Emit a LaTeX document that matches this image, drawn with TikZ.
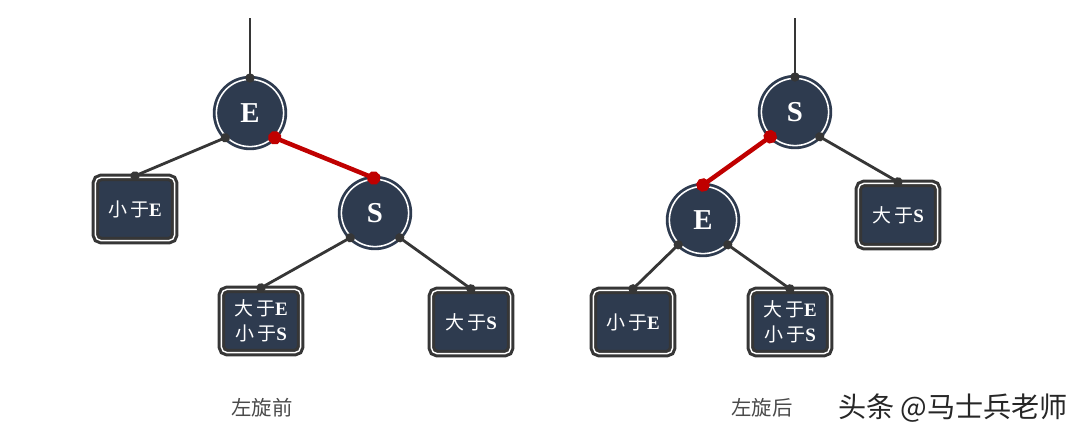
\documentclass[tikz,border=0pt]{standalone}
\usepackage{fontspec}
\setmainfont{Liberation Serif}
\newfontfamily\cjk{Noto Sans CJK SC}
\usetikzlibrary{arrows.meta}
\definecolor{treenavy}{HTML}{2E3B4F}
\definecolor{treeedge}{HTML}{363636}
\definecolor{rotred}{HTML}{C00000}
\definecolor{captiongray}{HTML}{4A4A4A}
\tikzset{
  keynode/.style={
    circle,
    fill=treenavy,
    draw=treenavy,
    double=white,
    double distance=1.1pt,
    line width=2pt,
    minimum size=1.68cm,
    inner sep=0pt,
    text=white,
    font=\bfseries\fontsize{20.5}{20.5}\selectfont
  },
  subtree/.style={
    rounded corners=4pt,
    fill=treenavy,
    draw=treeedge,
    double=white,
    double distance=1pt,
    line width=2.2pt,
    minimum width=1.98cm,
    minimum height=1.58cm,
    inner sep=0pt,
    align=center,
    text=white,
    font=\fontsize{13.5}{18}\selectfont
  },
  link/.style={
    {Circle[length=6.5pt]}-{Circle[length=6.5pt]},
    line width=2pt,
    draw=treeedge,
    shorten <=-3.25pt,
    shorten >=-3.25pt
  },
  stem/.style={
    -{Circle[length=6.5pt]},
    line width=2pt,
    draw=treeedge,
    shorten >=-3.25pt
  },
  rotlink/.style={
    {Circle[length=9.5pt]}-{Circle[length=9.5pt]},
    line width=3.2pt,
    draw=rotred,
    shorten <=-4.75pt,
    shorten >=-4.75pt
  },
  caption/.style={
    text=captiongray,
    font=\cjk\fontsize{14.5}{16}\selectfont
  }
}

\begin{document}
\begin{tikzpicture}[x=0.025cm, y=-0.025cm]
\useasboundingbox (0,0) rectangle (1080,435);

% before the rotation
\coordinate (leftTop) at (250,18);
\node[keynode] (leftE) at (250,113) {E};
\node[keynode] (leftS) at (375,213) {S};
\node[subtree] (leftLess) at (135,209) {{\cjk 小\,于}\textbf{E}};
\node[subtree] (leftMid) at (261,321) {{\cjk 大\,于}\textbf{E}\\{\cjk 小\,于}\textbf{S}};
\node[subtree] (leftMore) at (471,322) {{\cjk 大\,于}\textbf{S}};
\draw[stem] (leftTop) -- (leftE.north);
\draw[link] (leftE.-135) -- (leftLess.north);
\draw[rotlink] (leftE.-45) -- (leftS.92);
\draw[link] (leftS.-135) -- (leftMid.north);
\draw[link] (leftS.-45) -- (leftMore.north);
\node[caption] (before) at (262,408) {左旋前};

% after the rotation
\coordinate (rightTop) at (795,18);
\node[keynode] (rightS) at (795,112) {S};
\node[keynode] (rightE) at (703,220) {E};
\node[subtree] (rightMore) at (898,215) {{\cjk 大\,于}\textbf{S}};
\node[subtree] (rightLess) at (633,322) {{\cjk 小\,于}\textbf{E}};
\node[subtree] (rightMid) at (790,322) {{\cjk 大\,于}\textbf{E}\\{\cjk 小\,于}\textbf{S}};
\draw[stem] (rightTop) -- (rightS.north);
\draw[rotlink] (rightS.-135) -- (rightE.north);
\draw[link] (rightS.-45) -- (rightMore.north);
\draw[link] (rightE.-135) -- (rightLess.north);
\draw[link] (rightE.-45) -- (rightMid.north);
\node[caption] (after) at (762,408) {左旋后};

\node[font=\cjk\fontsize{20}{22}\selectfont, text=black!85] (mark) at (953,408) {头条 @马士兵老师};
\end{tikzpicture}
\end{document}
